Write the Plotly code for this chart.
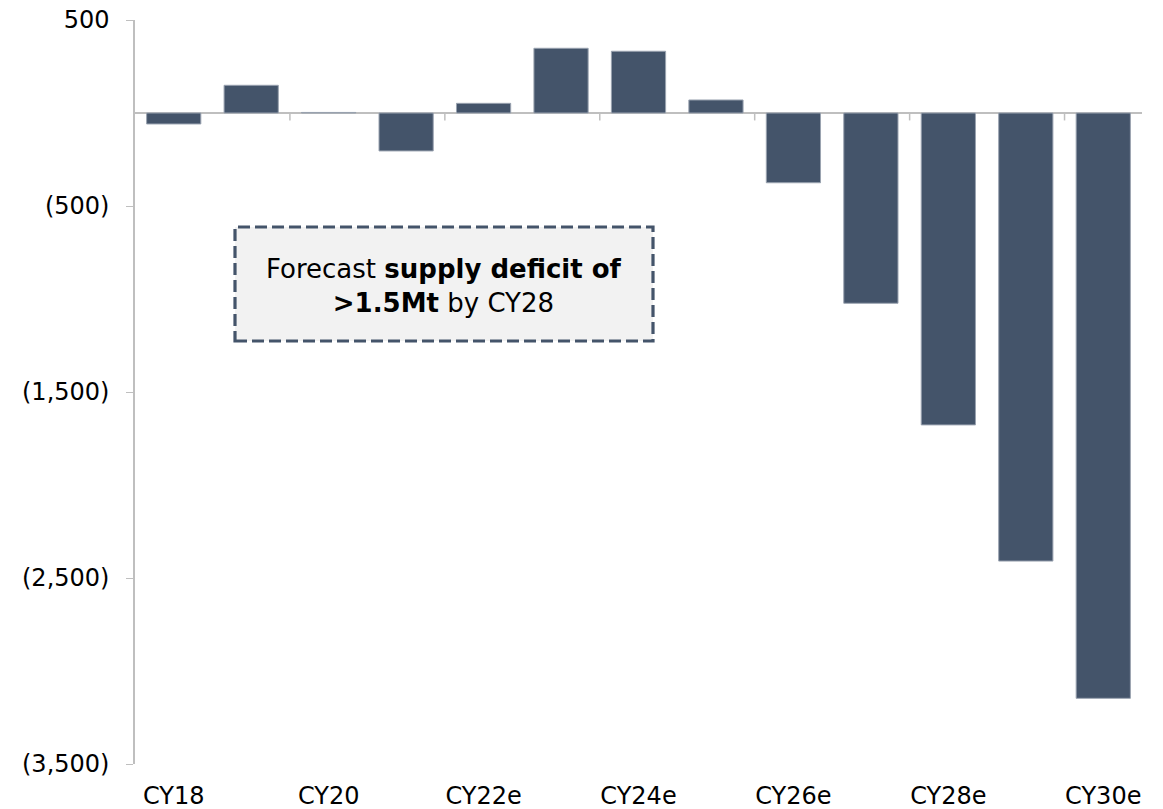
import plotly.graph_objects as go

categories = ["CY18", "CY19", "CY20", "CY21", "CY22e", "CY23e", "CY24e",
              "CY25e", "CY26e", "CY27e", "CY28e", "CY29e", "CY30e"]
balance = [-59, 149, 3, -204, 52, 348, 332, 70, -375, -1023, -1677, -2409, -3147]

ytick_vals = [500, -500, -1500, -2500, -3500]
ytick_text = ["500", "(500)", "(1,500)", "(2,500)", "(3,500)"]
xtick_labels = ["CY18", "CY20", "CY22e", "CY24e", "CY26e", "CY28e", "CY30e"]

BAR = "#44546A"
AXIS = "#BFBFBF"
FONT = "DejaVu Sans"

fig = go.Figure()
fig.add_trace(go.Bar(
    x=list(range(len(categories))), y=balance,
    width=0.7,
    marker=dict(color=BAR, line=dict(color="#9AA3B0", width=1)),
    hovertext=categories, showlegend=False,
))

# minor category-boundary ticks on the zero line (every second category)
shapes = []
for i in range(1, len(categories) // 2 + 1):
    b = 2 * i - 0.5
    shapes.append(dict(type="line", xref="x", yref="y", x0=b, x1=b, y0=0, y1=-40,
                       line=dict(color=AXIS, width=1.5)))

# dashed callout box
shapes.append(dict(type="rect", xref="paper", yref="paper",
                   x0=(235 - 135) / 1007, x1=(653 - 135) / 1007,
                   y0=(764 - 341) / 744, y1=(764 - 227) / 744,
                   fillcolor="#F2F2F2", line=dict(color=BAR, width=3.2, dash="12px,5px"),
                   layer="above"))

fig.update_layout(
    width=1163, height=809,
    margin=dict(l=135, r=21, t=20, b=45),
    plot_bgcolor="white", paper_bgcolor="white",
    font=dict(family=FONT, size=24, color="#000000"),
    bargap=0.3,
    shapes=shapes,
    annotations=[dict(
        xref="paper", yref="paper",
        x=(444 - 135) / 1007, y=(764 - 286) / 744,
        text="Forecast <b>supply deficit of</b><br><b>&gt;1.5Mt</b> by CY28",
        showarrow=False, font=dict(family=FONT, size=26, color="#000000"),
        align="center", xanchor="center", yanchor="middle",
    )],
    xaxis=dict(
        range=[-0.5, len(categories) - 0.5],
        tickvals=list(range(0, len(categories), 2)),
        ticktext=xtick_labels,
        ticks="", showline=False, showgrid=False, zeroline=False,
        ticklabelstandoff=15, automargin=False,
        tickfont=dict(family=FONT, size=24),
    ),
    yaxis=dict(
        range=[-3500, 500],
        tickvals=ytick_vals, ticktext=ytick_text,
        ticks="outside", ticklen=7, tickcolor=AXIS, tickwidth=1,
        showline=True, linecolor=AXIS, linewidth=1.5,
        showgrid=False, automargin=False,
        zeroline=True, zerolinecolor=AXIS, zerolinewidth=2,
        tickfont=dict(family=FONT, size=24),
        ticklabelstandoff=12,
    ),
)

fig.write_html("out.html", config={"displayModeBar": False},
               post_script="document.body.style.margin='0';")
